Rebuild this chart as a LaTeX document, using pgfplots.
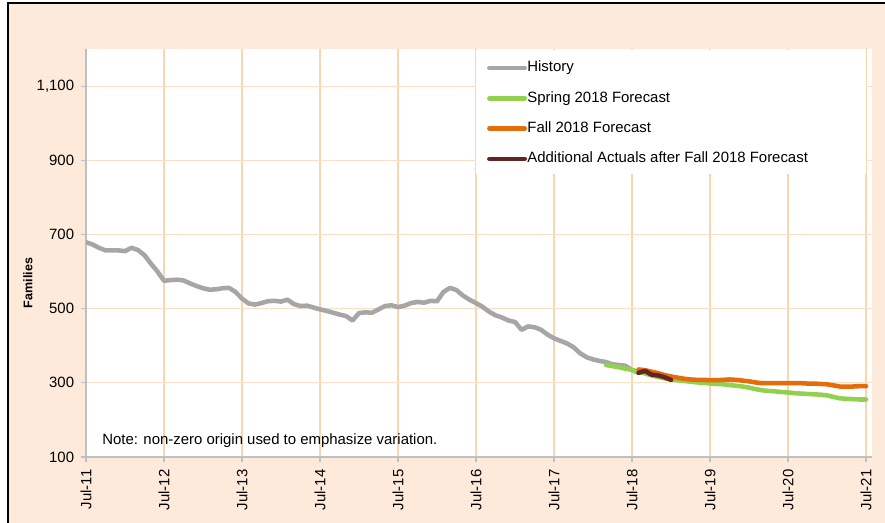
\documentclass[border=0pt]{standalone}
\usepackage{pgfplots}
\pgfplotsset{compat=1.18}
\usepackage{fontspec}
\setmainfont{Liberation Sans}
\definecolor{peach}{HTML}{FDEADA}
\definecolor{vgrid}{HTML}{FAD6B0}
\definecolor{hgrid}{HTML}{FCE0C6}
\definecolor{axgray}{HTML}{BFBFBF}
\definecolor{histgray}{HTML}{A6A6A6}
\definecolor{springgreen}{HTML}{92D050}
\definecolor{fallorange}{HTML}{E46C0A}
\definecolor{actualbrown}{HTML}{632523}
\newcommand{\chfont}{\fontsize{11.2}{13}\selectfont}
\begin{document}
\begin{tikzpicture}[x=0.75pt,y=0.75pt]
\useasboundingbox (0,0) rectangle (885,523);
\fill[white] (0,0) rectangle (885,523);
\fill[peach] (8,0) rectangle (885,520);
\draw[black,line width=1.2pt] (8,0) -- (8,520) -- (885,520);
\node[rotate=90,font=\fontsize{9.4}{11}\selectfont\bfseries] at (28,240) {Families};
\begin{axis}[
  at={(64.5pt,49.5pt)}, anchor=south west,
  scale only axis, width=589.5pt, height=306pt,
  xmin=0, xmax=120.92, ymin=100, ymax=1200,
  axis lines*=left,
  axis line style={color=axgray, line width=0.8pt},
  axis background/.style={fill=white},
  xtick={0,12,...,120},
  xticklabels={Jul-11,Jul-12,Jul-13,Jul-14,Jul-15,Jul-16,Jul-17,Jul-18,Jul-19,Jul-20,Jul-21},
  xticklabel style={rotate=90, anchor=east, font=\chfont, inner sep=1pt},
  ytick={100,300,500,700,900,1100},
  yticklabels={100,300,500,700,900,{1,100}},
  yticklabel style={font=\chfont, inner sep=1pt},
  /pgf/number format/assume math mode=true,
  tick align=outside, major tick length=3.75pt,
  major tick style={color=axgray, line width=0.8pt},
  xmajorgrids, ymajorgrids,
  x grid style={color=vgrid, line width=1.1pt},
  y grid style={color=hgrid, line width=0.8pt},
  xticklabel shift=4.5pt, yticklabel shift=4pt,
  legend style={at={(0.510,0.972)}, anchor=north west, draw=none, fill=none,
    inner sep=0pt, row sep=11.6pt, font=\chfont,
    nodes={inner sep=0.3pt, text height=8pt, text depth=2.5pt}},
  legend image code/.code={\draw[#1] (0pt,0pt) -- (26.5pt,0pt);},
  legend cell align=left,
  every axis plot/.append style={line width=3.4pt, line join=round, line cap=round},
]
\fill[white] (rel axis cs:0.496,0.694) rectangle (rel axis cs:0.992,0.997);
\addplot[color=histgray] coordinates {
(0,679)(1,673)(2,664)(3,657)(4,657)(5,657)(6,655)(7,664)(8,658)(9,644)
(10,621)(11,600)(12,575)(13,577)(14,578)(15,576)(16,568)(17,561)(18,555)(19,551)
(20,552)(21,555)(22,556)(23,545)(24,527)(25,514)(26,511)(27,515)(28,520)(29,521)
(30,519)(31,524)(32,512)(33,507)(34,508)(35,503)(36,498)(37,494)(38,489)(39,484)
(40,480)(41,468)(42,488)(43,490)(44,489)(45,498)(46,507)(47,509)(48,504)(49,508)
(50,515)(51,518)(52,516)(53,521)(54,520)(55,545)(56,556)(57,550)(58,535)(59,524)
(60,515)(61,505)(62,492)(63,482)(64,476)(65,468)(66,464)(67,443)(68,452)(69,450)
(70,443)(71,430)(72,420)(73,413)(74,406)(75,396)(76,380)(77,369)(78,363)(79,359)
(80,356)(81,350)(82,348)(83,346)(84,334)(85,327)
};
\addlegendentry{History}
\addplot[color=springgreen] coordinates {
(80,348)(81,345)(82,342)(83,338)(84,335)(85,330)(86,325)(87,320)(88,316)(89,312)
(90,309)(91,307)(92,305)(93,303)(94,301)(95,300)(96,298)(97,297)(98,296)(99,294)
(100,292)(101,290)(102,287)(103,283)(104,280)(105,278)(106,277)(107,275)(108,274)(109,272)
(110,271)(111,270)(112,269)(113,268)(114,266)(115,262)(116,258)(117,257)(118,256)(119,255)(120,255)
};
\addlegendentry{Spring 2018 Forecast}
\addplot[color=fallorange] coordinates {
(85,336)(86,334)(87,330)(88,326)(89,321)(90,317)(91,314)(92,311)(93,309)(94,308)
(95,308)(96,307)(97,307)(98,308)(99,309)(100,308)(101,306)(102,304)(103,301)(104,299)
(105,299)(106,299)(107,299)(108,299)(109,299)(110,299)(111,298)(112,298)(113,297)(114,296)
(115,293)(116,290)(117,290)(118,290)(119,291)(120,291)
};
\addlegendentry{Fall 2018 Forecast}
\addplot[color=actualbrown] coordinates {
(85,327)(86,332)(87,322)(88,320)(89,315)(90,308)
};
\addlegendentry{Additional Actuals after Fall 2018 Forecast}
\end{axis}
\node[anchor=base west,font=\chfont,inner sep=0pt] at (102,78.7) {Note: non-zero origin used to emphasize variation.};
\end{tikzpicture}
\end{document}
